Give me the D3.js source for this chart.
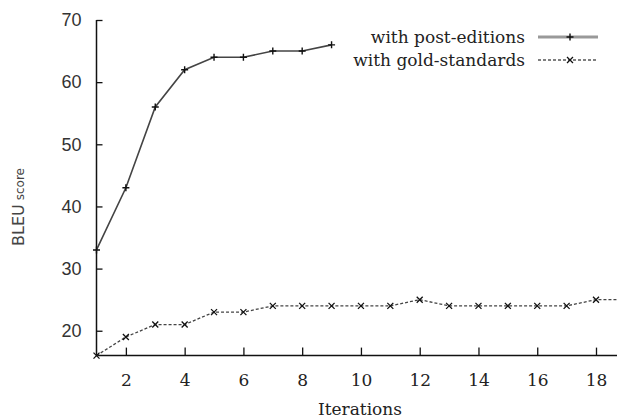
<!DOCTYPE html>
<html>
<head>
<meta charset="utf-8">
<script src="https://cdn.jsdelivr.net/npm/d3@7"></script>
<style>
  body { margin: 0; background: #fff; }
  svg { display: block; }
</style>
</head>
<body>
<div id="chart"></div>
<script>
// data
var iterations = [1,2,3,4,5,6,7,8,9,10,11,12,13,14,15,16,17,18,19];
var postEditions = [33,43,56,62,64,64,65,65,66];
var goldStandards = [16,19,21,21,23,23,24,24,24,24,24,25,24,24,24,24,24,25,25];
var xTicks = [2,4,6,8,10,12,14,16,18];
var yTicks = [20,30,40,50,60,70];
var seriesNames = ["with post-editions", "with gold-standards"];

var width = 617, height = 418;
var svg = d3.select("#chart").append("svg")
    .attr("width", width)
    .attr("height", height);

var x = d3.scaleLinear().domain([1, 18]).range([96.5, 596]);
var y = d3.scaleLinear().domain([16, 70]).range([355.6, 20]);

// y axis: ticks point inward
var yAxis = svg.append("g")
    .attr("transform", "translate(" + x(1) + ",0)")
    .call(d3.axisLeft(y).tickValues(yTicks).tickSizeInner(-6).tickSizeOuter(0).tickPadding(15));
yAxis.select(".domain").attr("stroke", "#111").attr("stroke-width", 1.5)
    .attr("d", "M0," + y(70) + "V" + y(16));
yAxis.selectAll(".tick line").attr("stroke", "#111").attr("stroke-width", 1.3);
yAxis.selectAll(".tick text")
    .attr("font-family", "'Liberation Sans', sans-serif")
    .attr("font-size", 18)
    .attr("fill", "#333");

// x axis
var xAxis = svg.append("g")
    .attr("transform", "translate(0," + y(16) + ")")
    .call(d3.axisBottom(x).tickValues(xTicks).tickSizeInner(-8).tickSizeOuter(0).tickPadding(18));
xAxis.select(".domain").attr("stroke", "#111").attr("stroke-width", 1.5)
    .attr("d", "M" + x(1) + ",0H" + width);
xAxis.selectAll(".tick line").attr("stroke", "#111").attr("stroke-width", 1.3);
xAxis.selectAll(".tick text")
    .attr("font-family", "'DejaVu Serif', serif")
    .attr("font-size", 17)
    .attr("fill", "#222");

// axis titles
svg.append("text")
    .attr("x", 360).attr("y", 415)
    .attr("text-anchor", "middle")
    .attr("font-family", "'DejaVu Serif', serif")
    .attr("font-size", 17)
    .attr("fill", "#222")
    .text("Iterations");

var yl = svg.append("text")
    .attr("transform", "translate(24,246) rotate(-90)")
    .attr("font-family", "'DejaVu Sans', sans-serif")
    .attr("fill", "#444");
yl.append("tspan").attr("font-size", 16).text("BLEU");
yl.append("tspan").attr("font-size", 12).attr("dx", 4).text("score");

// lines
var postPts = postEditions.map(function(v, i) { return [iterations[i], v]; });
var goldPts = goldStandards.map(function(v, i) { return [iterations[i], v]; });
var line = d3.line().x(function(d) { return x(d[0]); }).y(function(d) { return y(d[1]); });

svg.append("path")
    .datum(postPts)
    .attr("fill", "none")
    .attr("stroke", "#444")
    .attr("stroke-width", 1.6)
    .attr("d", line);

svg.append("path")
    .datum(goldPts)
    .attr("fill", "none")
    .attr("stroke", "#444")
    .attr("stroke-width", 1.3)
    .attr("stroke-dasharray", "3,2")
    .attr("d", line);

// markers: '+' for post-editions, 'x' for gold
function plus(cx, cy, s) {
    return "M" + (cx - s) + "," + cy + "H" + (cx + s) + "M" + cx + "," + (cy - s) + "V" + (cy + s);
}
function cross(cx, cy, s) {
    return "M" + (cx - s) + "," + (cy - s) + "L" + (cx + s) + "," + (cy + s) +
        "M" + (cx - s) + "," + (cy + s) + "L" + (cx + s) + "," + (cy - s);
}

svg.selectAll(".ptPost")
    .data(postPts)
    .enter().append("path")
    .attr("class", "ptPost")
    .attr("d", function(d) { return plus(x(d[0]), y(d[1]), 3.5); })
    .attr("stroke", "#111")
    .attr("stroke-width", 1.4);

svg.selectAll(".ptGold")
    .data(goldPts)
    .enter().append("path")
    .attr("class", "ptGold")
    .attr("d", function(d) { return cross(x(d[0]), y(d[1]), 3); })
    .attr("stroke", "#111")
    .attr("stroke-width", 1.3);

// legend
var legend = svg.append("g").attr("class", "legend");
var legY = [37, 60];
legend.selectAll("text")
    .data(seriesNames)
    .enter().append("text")
    .attr("x", 525)
    .attr("y", function(d, i) { return legY[i] + 6; })
    .attr("text-anchor", "end")
    .attr("font-family", "'DejaVu Serif', serif")
    .attr("font-size", 17)
    .attr("fill", "#222")
    .text(function(d) { return d; });

legend.append("line")
    .attr("x1", 538).attr("x2", 598)
    .attr("y1", legY[0]).attr("y2", legY[0])
    .attr("stroke", "#999").attr("stroke-width", 3);
legend.append("path")
    .attr("d", plus(570, legY[0], 3.5))
    .attr("stroke", "#111").attr("stroke-width", 1.4);

legend.append("line")
    .attr("x1", 538).attr("x2", 598)
    .attr("y1", legY[1]).attr("y2", legY[1])
    .attr("stroke", "#555").attr("stroke-width", 1.3)
    .attr("stroke-dasharray", "3,2");
legend.append("path")
    .attr("d", cross(570, legY[1], 3))
    .attr("stroke", "#111").attr("stroke-width", 1.3);
</script>
</body>
</html>
